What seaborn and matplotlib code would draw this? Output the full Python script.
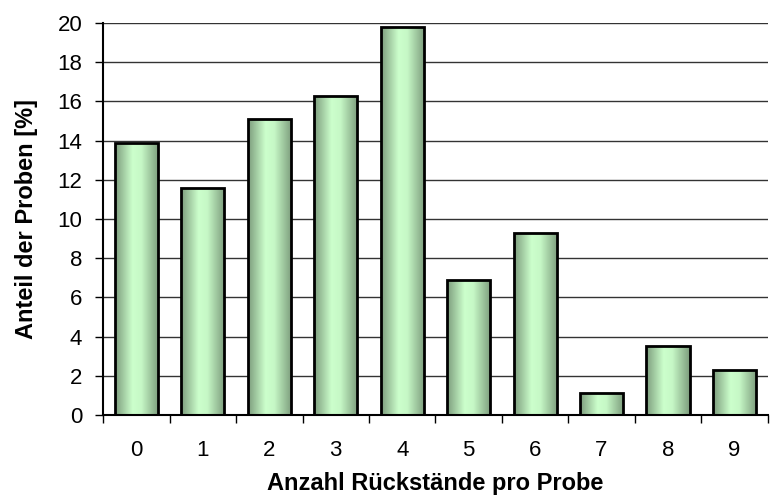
import numpy as np
import pandas as pd
import matplotlib
matplotlib.use("Agg")
import matplotlib.pyplot as plt
import seaborn as sns
from matplotlib.colors import LinearSegmentedColormap
from matplotlib.ticker import FixedLocator

categories = ["0", "1", "2", "3", "4", "5", "6", "7", "8", "9"]
values = [13.9, 11.6, 15.1, 16.3, 19.8, 6.9, 9.3, 1.1, 3.5, 2.3]
yticks = [0, 2, 4, 6, 8, 10, 12, 14, 16, 18, 20]

sns.set_theme(style="white")
plt.rcParams['font.family'] = ['Liberation Sans', 'DejaVu Sans']

df = pd.DataFrame({"cat": categories, "val": values})

fig = plt.figure(figsize=(7.7, 5), dpi=100)
ax = fig.add_axes([0.134, 0.17, 0.863, 0.784])

sns.barplot(data=df, x="cat", y="val", ax=ax, width=0.65,
            color="#ccffcc", edgecolor="black", linewidth=2, zorder=3,
            saturation=1)

# gradient fill
cmap = LinearSegmentedColormap.from_list(
    "cyl", [(0.0, "#7c9c7c"), (0.4, "#ccffcc"), (0.6, "#c6f8c6"), (1.0, "#7c9c7c")])
grad = np.linspace(0, 1, 256).reshape(1, -1)
for p in ax.patches:
    x0, y0 = p.get_x(), p.get_y()
    w, h = p.get_width(), p.get_height()
    im = ax.imshow(grad, extent=[x0, x0 + w, y0, y0 + h], aspect="auto",
                   cmap=cmap, zorder=3.5, interpolation="bilinear")
    im.set_clip_path(p)
    p.set_facecolor("none")
    p.set_zorder(4)
ax.set_aspect("auto")
ax.set_xlim(-0.5, len(categories) - 0.5)
ax.set_ylim(0, 20)

ax.set_yticks(yticks)
ax.yaxis.grid(True, color="#333333", linewidth=1)
ax.set_axisbelow(True)
for s in ["top", "right"]:
    ax.spines[s].set_visible(False)
for s in ["left", "bottom"]:
    ax.spines[s].set_color("black")
    ax.spines[s].set_linewidth(1.5)
    ax.spines[s].set_zorder(5)

ax.tick_params(axis="y", which="major", direction="out", length=6, width=1,
               color="black", left=True, labelsize=16, pad=9, labelcolor="black")
ax.tick_params(axis="x", which="major", length=0, labelsize=16, pad=18, labelcolor="black")
ax.xaxis.set_minor_locator(FixedLocator(np.arange(-0.5, len(categories), 1.0)))
ax.tick_params(axis="x", which="minor", direction="out", length=6, width=1,
               color="black", bottom=True)

ax.set_xlabel("Anzahl Rückstände pro Probe", fontsize=17, fontweight="bold",
              labelpad=8, color="black")
ax.set_ylabel("Anteil der Proben [%]", fontsize=17, fontweight="bold",
              labelpad=14, color="black")

fig.savefig("out.png", dpi=100)
